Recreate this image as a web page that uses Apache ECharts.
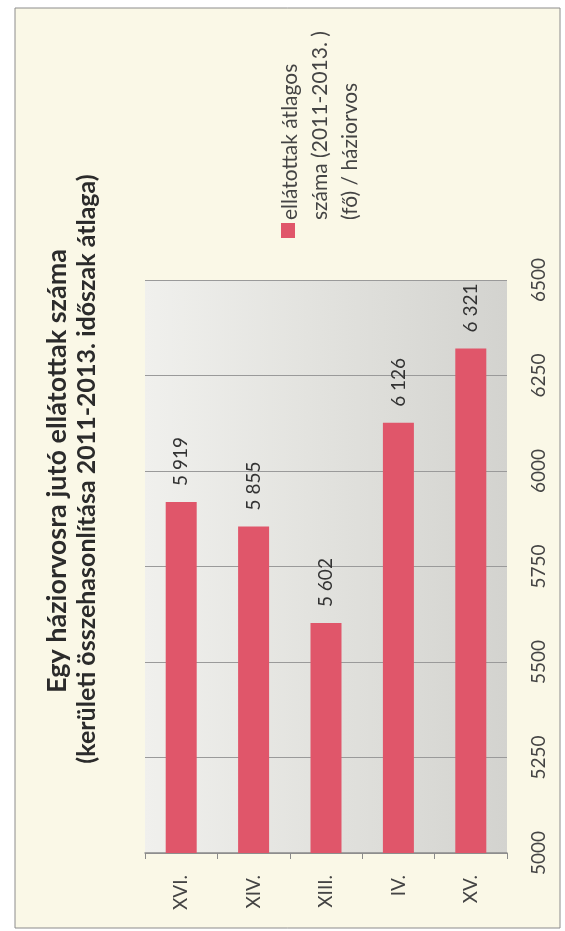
<!DOCTYPE html>
<html>
<head>
<meta charset="utf-8">
<title>Egy háziorvosra jutó ellátottak száma</title>
<script src="https://cdn.jsdelivr.net/npm/echarts@6/dist/echarts.min.js"></script>
<style>
  html, body { margin: 0; padding: 0; background: #fff; }
  #chart { width: 565px; height: 931px; }
</style>
</head>
<body>
<div id="chart"></div>
<script>
// Chart data (the scanned chart is turned 90 degrees, so every text is rotated)
const categories = ['XVI.', 'XIV.', 'XIII.', 'IV.', 'XV.'];
const values = [5919, 5855, 5602, 6126, 6321];
const axisMin = 5000;
const axisMax = 6500;
const axisStep = 250;

const titleLines = [
    'Egy háziorvosra jutó ellátottak száma',
    '(kerületi összehasonlítása 2011-2013. időszak átlaga)'
];
const legendLines = [
    'ellátottak átlagos',
    'száma (2011-2013. )',
    '(fő) / háziorvos'
];

const FONT = 'Lato, "Noto Sans", sans-serif';
const BAR_COLOR = '#e0566a';
const ROT = Math.PI / 2;

// thousands separated by a space, like "5 919"
function fmt(v) {
    return String(v).replace(/\B(?=(\d{3})+(?!\d))/g, ' ');
}

const myChart = echarts.init(document.getElementById('chart'));

const graphics = [
    {
        type: 'rect',
        z: -1,
        shape: { x: 15, y: 8, width: 545, height: 920 },
        style: { fill: '#faf8e7', stroke: '#8c8c8c', lineWidth: 1 },
        silent: true
    },
    // title, two lines
    {
        type: 'text', x: 57, y: 471, rotation: ROT,
        style: {
            text: titleLines[0], font: 'bold 27px ' + FONT, fill: '#2b2b2b',
            textAlign: 'center', textVerticalAlign: 'middle'
        }
    },
    {
        type: 'text', x: 87, y: 469, rotation: ROT,
        style: {
            text: titleLines[1], font: 'bold 25px ' + FONT, fill: '#2b2b2b',
            textAlign: 'center', textVerticalAlign: 'middle'
        }
    },
    // legend marker
    {
        type: 'rect',
        shape: { x: 281, y: 223, width: 14, height: 15 },
        style: { fill: BAR_COLOR }
    }
];

legendLines.forEach((line, i) => {
    graphics.push({
        type: 'text', x: 290 + i * 30, y: 220, rotation: ROT,
        style: {
            text: line, font: '21px ' + FONT, fill: '#444',
            textAlign: 'left', textVerticalAlign: 'middle'
        }
    });
});

const option = {
    backgroundColor: '#ffffff',
    animation: false,
    textStyle: { fontFamily: FONT },
    graphic: graphics,
    grid: {
        left: 145,
        right: 58,
        top: 280,
        bottom: 78,
        show: true,
        borderWidth: 0,
        backgroundColor: new echarts.graphic.LinearGradient(0, 0, 1, 0, [
            { offset: 0, color: '#f0f0ed' },
            { offset: 0.45, color: '#e3e3df' },
            { offset: 1, color: '#d3d3cf' }
        ])
    },
    xAxis: {
        type: 'category',
        data: categories,
        axisLine: { lineStyle: { color: '#8a8a8a', width: 1.5 } },
        axisTick: { show: true, length: 6, lineStyle: { color: '#8a8a8a' } },
        axisLabel: {
            rotate: 90,
            margin: 22,
            fontSize: 19,
            color: '#444'
        }
    },
    yAxis: {
        type: 'value',
        position: 'right',
        min: axisMin,
        max: axisMax,
        interval: axisStep,
        axisLine: { show: false },
        axisTick: { show: false },
        splitLine: { lineStyle: { color: '#9a9a9a', width: 1 } },
        axisLabel: {
            rotate: 90,
            margin: 22,
            fontSize: 19,
            color: '#444',
            formatter: v => String(v)
        }
    },
    series: [
        {
            name: 'ellátottak átlagos száma (2011-2013.) (fő) / háziorvos',
            type: 'bar',
            data: values,
            barWidth: 31,
            itemStyle: { color: BAR_COLOR },
            label: {
                show: true,
                position: 'top',
                rotate: 90,
                align: 'left',
                verticalAlign: 'middle',
                distance: 16,
                fontSize: 19,
                color: '#333',
                formatter: p => fmt(p.value)
            }
        }
    ]
};

myChart.setOption(option);
window.addEventListener('resize', () => myChart.resize());
</script>
</body>
</html>
